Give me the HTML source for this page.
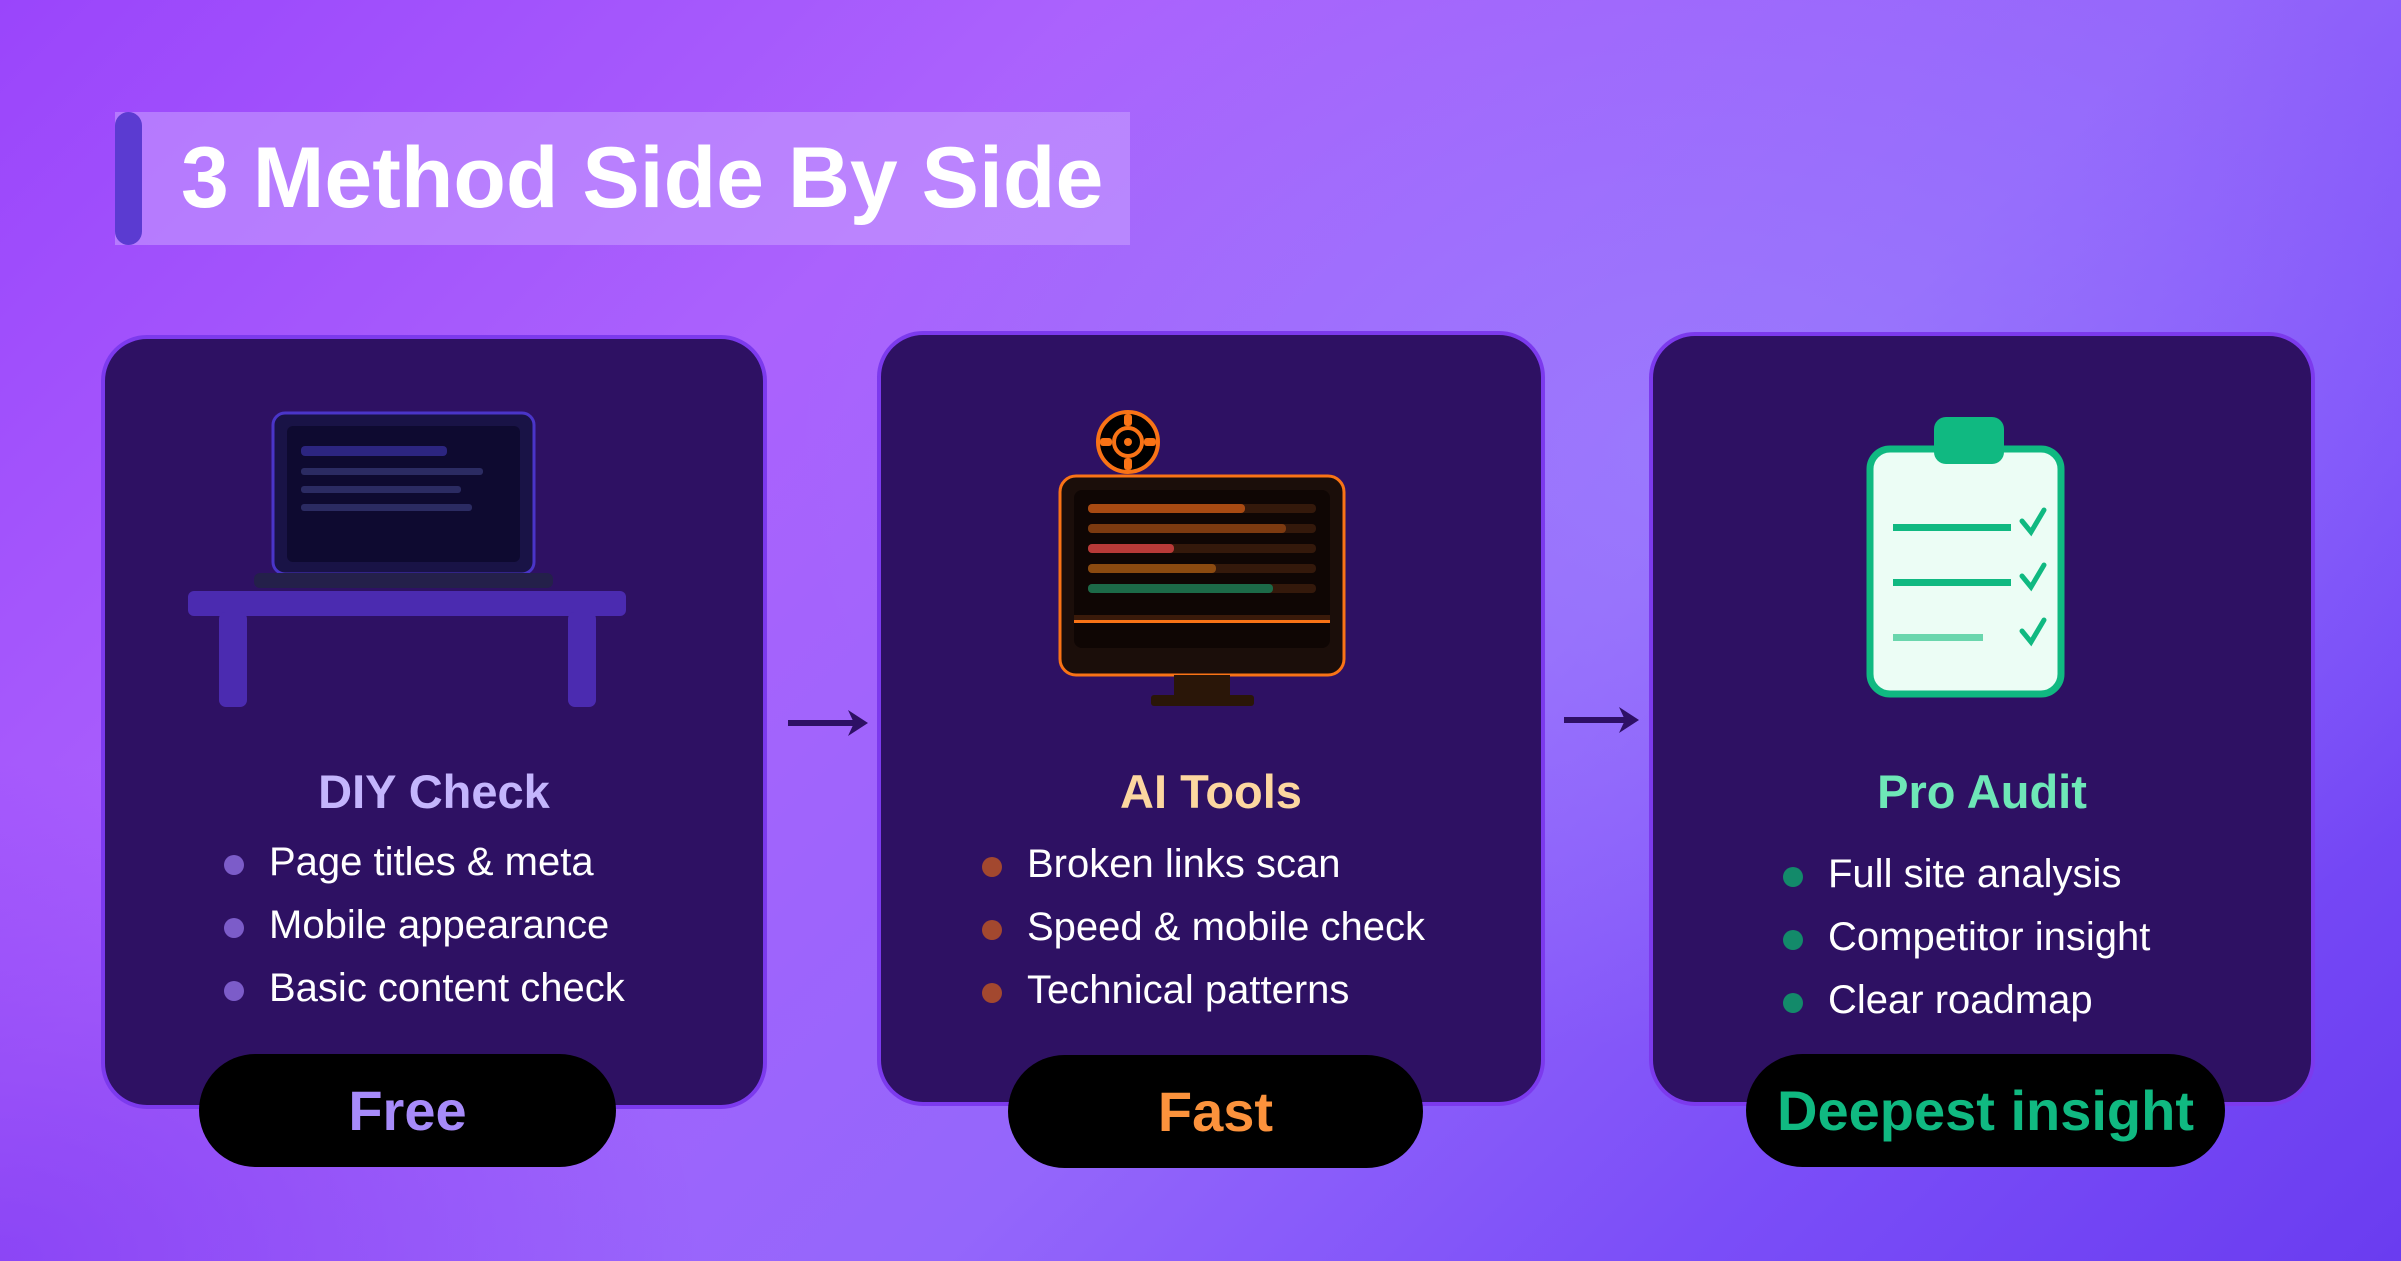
<!DOCTYPE html>
<html><head><meta charset="utf-8"><style>
*{margin:0;padding:0;box-sizing:border-box}
body{width:2401px;height:1261px;overflow:hidden;position:relative;font-family:"Liberation Sans",sans-serif;
background:radial-gradient(ellipse 900px 600px at 1700px 450px,rgba(160,140,255,0.5),transparent),
radial-gradient(ellipse 700px 500px at 0px 1261px,rgba(120,50,240,0.6),transparent),
linear-gradient(135deg,#9a45fb 0%,#ab62fd 30%,#9466fb 60%,#7b4ef8 80%,#6a3cf0 100%);}
.abs{position:absolute}
.card{position:absolute;background:#2e1163;border:4px solid #7c3aed;border-radius:46px}
.pill{position:absolute;background:#000;border-radius:60px;height:113px;text-align:center;line-height:113px;font-size:56px;font-weight:bold}
.h{position:absolute;font-size:47px;font-weight:bold;text-align:center;width:666px}
.li{position:absolute;font-size:40px;color:#fff;white-space:nowrap}
.dot{position:absolute;width:20px;height:20px;border-radius:50%}
</style></head><body>
<div class="abs" style="left:115px;top:112px;width:1015px;height:133px;background:rgba(200,160,255,0.55)"></div>
<div class="abs" style="left:115px;top:112px;width:27px;height:133px;background:#5b3bd1;border-radius:14px"></div>
<div class="abs" style="left:181px;top:118px;font-size:86px;font-weight:bold;color:#fff;line-height:120px;white-space:nowrap">3 Method Side By Side</div>

<div class="card" style="left:101px;top:335px;width:666px;height:774px"></div>
<div class="card" style="left:877px;top:331px;width:668px;height:775px"></div>
<div class="card" style="left:1649px;top:332px;width:666px;height:774px"></div>

<svg class="abs" style="left:780px;top:700px" width="100" height="50"><line x1="8" y1="23" x2="75" y2="23" stroke="#2e1065" stroke-width="6"/><polygon points="68,10 88,23 68,36 74,23" fill="#2e1065"/></svg>
<svg class="abs" style="left:1556px;top:697px" width="100" height="50"><line x1="8" y1="23" x2="70" y2="23" stroke="#2e1065" stroke-width="6"/><polygon points="63,10 83,23 63,36 69,23" fill="#2e1065"/></svg>

<svg class="abs" style="left:0;top:0" width="2401" height="1261">
<rect x="273" y="413" width="261" height="161" rx="12" fill="#191346" stroke="#4a35c8" stroke-width="3"/>
<rect x="287" y="426" width="233" height="136" rx="6" fill="#0e0a30"/>
<rect x="301" y="446" width="146" height="10" rx="4" fill="#2c2580"/>
<rect x="301" y="468" width="182" height="7" rx="3" fill="#2b2b62"/>
<rect x="301" y="486" width="160" height="7" rx="3" fill="#2b2b62"/>
<rect x="301" y="504" width="171" height="7" rx="3" fill="#2b2b62"/>
<rect x="254" y="573" width="299" height="15" rx="6" fill="#24204a"/>
<rect x="188" y="591" width="438" height="25" rx="6" fill="#4b2bb0"/>
<rect x="219" y="612" width="28" height="95" rx="7" fill="#4b2bb0"/>
<rect x="568" y="612" width="28" height="95" rx="7" fill="#4b2bb0"/>

<circle cx="1128" cy="442" r="30" fill="#000" stroke="#f97316" stroke-width="4"/>
<circle cx="1128" cy="442" r="14" fill="none" stroke="#f97316" stroke-width="4"/>
<circle cx="1128" cy="442" r="4" fill="#f97316"/>
<rect x="1124" y="414" width="8" height="12" rx="3" fill="#f97316"/>
<rect x="1124" y="458" width="8" height="12" rx="3" fill="#f97316"/>
<rect x="1100" y="438" width="12" height="8" rx="3" fill="#f97316"/>
<rect x="1144" y="438" width="12" height="8" rx="3" fill="#f97316"/>
<rect x="1060" y="476" width="284" height="199" rx="16" fill="#1b0e0a" stroke="#f97316" stroke-width="3"/>
<rect x="1074" y="490" width="256" height="158" rx="8" fill="#0f0604"/>
<g>
<rect x="1088" y="504" width="228" height="9" rx="4" fill="#34190b"/><rect x="1088" y="504" width="157" height="9" rx="4" fill="#a84a12"/>
<rect x="1088" y="524" width="228" height="9" rx="4" fill="#34190b"/><rect x="1088" y="524" width="198" height="9" rx="4" fill="#7c3a10"/>
<rect x="1088" y="544" width="228" height="9" rx="4" fill="#34190b"/><rect x="1088" y="544" width="86" height="9" rx="4" fill="#b83a38"/>
<rect x="1088" y="564" width="228" height="9" rx="4" fill="#34190b"/><rect x="1088" y="564" width="128" height="9" rx="4" fill="#8b4a10"/>
<rect x="1088" y="584" width="228" height="9" rx="4" fill="#34190b"/><rect x="1088" y="584" width="185" height="9" rx="4" fill="#1c6a48"/>
</g>
<rect x="1074" y="615" width="256" height="6" fill="#3a1a0a"/>
<rect x="1074" y="620" width="256" height="3" fill="#f97316"/>
<rect x="1174" y="675" width="56" height="23" fill="#2a1608"/>
<rect x="1151" y="695" width="103" height="11" rx="3" fill="#2a1608"/>

<rect x="1870" y="449" width="191" height="245" rx="20" fill="#ecfdf5" stroke="#10b981" stroke-width="7"/>
<rect x="1934" y="417" width="70" height="47" rx="12" fill="#10b981"/>
<rect x="1893" y="524" width="118" height="7" fill="#10b981"/>
<rect x="1893" y="579" width="118" height="7" fill="#10b981"/>
<rect x="1893" y="634" width="90" height="7" fill="#6ad6ad"/>
<g fill="none" stroke="#10b981" stroke-width="5" stroke-linecap="round">
<polyline points="2022,521 2031,532 2044,510"/>
<polyline points="2022,576 2031,587 2044,565"/>
<polyline points="2022,631 2031,642 2044,620"/>
</g>
</svg>

<div class="h" style="left:101px;top:764px;color:#c4b5fd">DIY Check</div>
<div class="h" style="left:878px;top:764px;color:#fdd7a0">AI Tools</div>
<div class="h" style="left:1649px;top:764px;color:#6ee7b7">Pro Audit</div>

<div class="dot" style="left:224px;top:855px;background:#7c5cc9"></div>
<div class="dot" style="left:224px;top:918px;background:#7c5cc9"></div>
<div class="dot" style="left:224px;top:981px;background:#7c5cc9"></div>
<div class="li" style="left:269px;top:840px">Page titles &amp; meta</div>
<div class="li" style="left:269px;top:903px">Mobile appearance</div>
<div class="li" style="left:269px;top:966px">Basic content check</div>

<div class="dot" style="left:982px;top:857px;background:#a3482f"></div>
<div class="dot" style="left:982px;top:920px;background:#a3482f"></div>
<div class="dot" style="left:982px;top:983px;background:#a3482f"></div>
<div class="li" style="left:1027px;top:842px">Broken links scan</div>
<div class="li" style="left:1027px;top:905px">Speed &amp; mobile check</div>
<div class="li" style="left:1027px;top:968px">Technical patterns</div>

<div class="dot" style="left:1783px;top:867px;background:#138a6a"></div>
<div class="dot" style="left:1783px;top:930px;background:#138a6a"></div>
<div class="dot" style="left:1783px;top:993px;background:#138a6a"></div>
<div class="li" style="left:1828px;top:852px">Full site analysis</div>
<div class="li" style="left:1828px;top:915px">Competitor insight</div>
<div class="li" style="left:1828px;top:978px">Clear roadmap</div>

<div class="pill" style="left:199px;top:1054px;width:417px;color:#a78bfa">Free</div>
<div class="pill" style="left:1008px;top:1055px;width:415px;color:#fb923c">Fast</div>
<div class="pill" style="left:1746px;top:1054px;width:479px;color:#10b981">Deepest insight</div>
</body></html>
